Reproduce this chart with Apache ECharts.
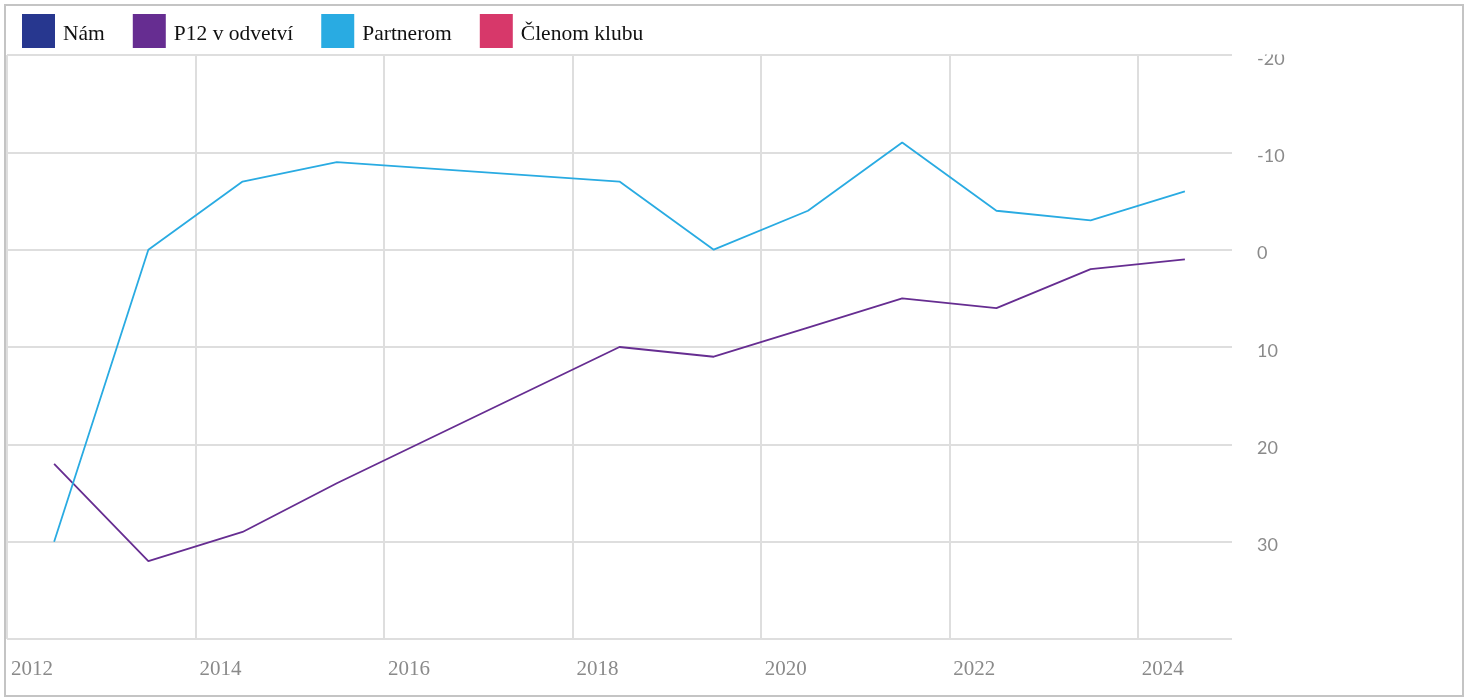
<!DOCTYPE html>
<html>
<head>
<meta charset="utf-8">
<script src="https://cdn.jsdelivr.net/npm/echarts@6/dist/echarts.min.js"></script>
<style>
html,body{margin:0;padding:0;background:#fff;}
#chart{width:1469px;height:698px;}
</style>
</head>
<body>
<div id="chart"></div>
<script>
// Data (x = year, points sit at mid-year)
const seriesNames = ['Nám', 'P12 v odvetví', 'Partnerom', 'Členom klubu'];
const seriesColors = ['#27378f', '#662d91', '#29abe2', '#d7386a'];
const years = [2012.5, 2013.5, 2014.5, 2015.5, 2018.5, 2019.5, 2020.5, 2021.5, 2022.5, 2023.5, 2024.5];
const namValues = [];
const p12Values = [22, 32, 29, 24, 10, 11, 8, 5, 6, 2, 1];
const partneromValues = [30, 0, -7, -9, -7, 0, -4, -11, -4, -3, -6];
const clenomValues = [];
const xTickLabels = ['2012', '2014', '2016', '2018', '2020', '2022', '2024'];
const yTickLabels = ['-20', '-10', '0', '10', '20', '30'];

function pairs(vals) { return vals.map((v, i) => [years[i], v]); }
const allValues = [namValues, p12Values, partneromValues, clenomValues];

const chart = echarts.init(document.getElementById('chart'));
chart.setOption({
  animation: false,
  backgroundColor: '#fff',
  legend: {
    left: 22, top: 14, padding: 0,
    icon: 'rect', itemWidth: 33, itemHeight: 34, itemGap: 28,
    formatter: name => '{a|' + name + '}',
    textStyle: {
      fontFamily: 'Liberation Serif', fontSize: 21.5, color: '#111',
      rich: { a: { fontFamily: 'Liberation Serif', fontSize: 21.5, color: '#111', padding: [6, 0, 0, 3] } }
    },
    data: seriesNames
  },
  grid: { left: 7, right: 237, top: 55, bottom: 59, containLabel: false },
  xAxis: {
    type: 'value', min: 2012, max: 2025, interval: 2,
    axisLine: { show: false }, axisTick: { show: false },
    splitLine: { show: true, showMaxLine: false, lineStyle: { color: '#dedede', width: 2 } },
    axisLabel: {
      showMaxLabel: false,
      align: 'left', margin: 20, padding: [0, 0, 0, 4],
      fontFamily: 'Liberation Serif', fontSize: 21, color: '#8a8a8a',
      formatter: v => xTickLabels.indexOf(String(Math.round(v))) >= 0 ? String(Math.round(v)) : ''
    }
  },
  yAxis: {
    type: 'value', position: 'right', inverse: true, min: -20, max: 40, interval: 10,
    axisLine: { show: false }, axisTick: { show: false },
    splitLine: { show: true, lineStyle: { color: '#dedede', width: 2 } },
    axisLabel: {
      showMaxLabel: false,
      margin: 25,
      fontFamily: 'Lato', fontSize: 18, color: '#8a8a8a',
      formatter: v => yTickLabels.indexOf(String(v)) >= 0 ? '{a|' + v + '}' : '',
      rich: { a: { fontFamily: 'Lato', fontSize: 18, color: '#8a8a8a', padding: [8, 0, 0, 0] } }
    }
  },
  graphic: [
    { type: 'rect', z: 100, silent: true, shape: { x: 1236, y: 7, width: 220, height: 47.5 }, style: { fill: '#fff' } },
    { type: 'rect', z: 101, silent: true, shape: { x: 5, y: 5, width: 1458, height: 691 }, style: { fill: 'none', stroke: '#c4c4c4', lineWidth: 2 } }
  ],
  series: seriesNames.map((name, i) => ({
    name: name, type: 'line',
    data: pairs(allValues[i]),
    showSymbol: false, symbol: 'none',
    color: seriesColors[i],
    itemStyle: { color: seriesColors[i] },
    lineStyle: { color: seriesColors[i], width: 1.8 }
  }))
});
</script>
</body>
</html>
